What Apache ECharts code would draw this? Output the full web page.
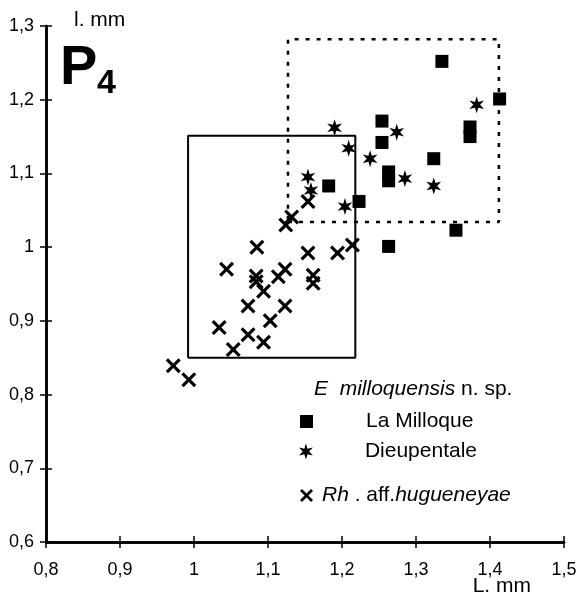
<!DOCTYPE html>
<html>
<head>
<meta charset="utf-8">
<script src="https://cdn.jsdelivr.net/npm/echarts@6/dist/echarts.min.js"></script>
<style>
html,body{margin:0;padding:0;background:#fff;}
#chart{width:580px;height:597px;}
</style>
</head>
<body>
<div id="chart"></div>
<script>
// ---- data ----
var xTicks = [0.8, 0.9, 1, 1.1, 1.2, 1.3, 1.4, 1.5];
var yTicks = [0.6, 0.7, 0.8, 0.9, 1, 1.1, 1.2, 1.3];

var laMilloque = [
  [1.335, 1.252], [1.413, 1.201], [1.373, 1.163], [1.373, 1.150],
  [1.254, 1.171], [1.254, 1.142], [1.324, 1.120], [1.263, 1.102],
  [1.263, 1.090], [1.182, 1.083], [1.223, 1.062], [1.354, 1.023],
  [1.263, 1.001]
];
var dieupentale = [
  [1.382, 1.193], [1.190, 1.162], [1.274, 1.156], [1.209, 1.134],
  [1.238, 1.120], [1.285, 1.093], [1.324, 1.083], [1.154, 1.095],
  [1.158, 1.077], [1.204, 1.055]
];
var hugueneyae = [
  [1.154, 1.062], [1.132, 1.041], [1.124, 1.030], [1.085, 1.000],
  [1.154, 0.992], [1.194, 0.992], [1.214, 1.003], [1.044, 0.970],
  [1.084, 0.961], [1.084, 0.953], [1.123, 0.970], [1.114, 0.960],
  [1.161, 0.962], [1.161, 0.951], [1.094, 0.940], [1.073, 0.920],
  [1.123, 0.920], [1.103, 0.900], [1.034, 0.891], [1.073, 0.881],
  [1.094, 0.871], [1.053, 0.861], [0.972, 0.839], [0.993, 0.820]
];
// boxes: [xmin, xmax, ymin, ymax]
var boxRh = [0.992, 1.218, 0.850, 1.151];
var boxE = [1.127, 1.412, 1.034, 1.282];

var seriesNames = ['La Milloque', 'Dieupentale', 'Rh. aff.hugueneyae'];

function boxPath(b) {
  return [[b[0], b[2]], [b[1], b[2]], [b[1], b[3]], [b[0], b[3]], [b[0], b[2]]];
}
function fmt(v) {
  return String(Number(v.toFixed(1))).replace('.', ',');
}

var STAR = 'path://M50,0L60,32.7L93.3,25L70,50L93.3,75L60,67.3L50,100L40,67.3L6.7,75L30,50L6.7,25L40,32.7Z';
var CROSS = 'path://M15,0L50,35L85,0L100,15L65,50L100,85L85,100L50,65L15,100L0,85L35,50L0,15Z';
var FONT = '"Liberation Sans", Arial, sans-serif';

var chart = echarts.init(document.getElementById('chart'));

var tickStyle = { color: '#000', width: 1.5 };

var option = {
  animation: false,
  backgroundColor: '#fff',
  grid: { left: 46, right: 16, top: 26, bottom: 55, containLabel: false, outerBoundsMode: 'none' },
  xAxis: [
    {
      type: 'value', min: 0.8, max: 1.5, interval: 0.1, position: 'bottom',
      axisLine: { show: true, onZero: false, lineStyle: { color: '#000', width: 2.5 } },
      splitLine: { show: false },
      name: 'L. mm', nameLocation: 'end', nameGap: 0, nameMoveOverlap: false,
      nameTextStyle: { color: '#000', fontFamily: FONT, fontSize: 21, align: 'right', verticalAlign: 'top', padding: [34, 33, 0, 0] },
      axisTick: { show: true, length: 6, lineStyle: tickStyle },
      axisLabel: { color: '#000', fontFamily: FONT, fontSize: 18, margin: 19, formatter: fmt }
    },
    {
      type: 'value', min: 0.8, max: 1.5, interval: 0.1, position: 'bottom',
      axisLine: { show: true, onZero: false, lineStyle: { color: '#000', width: 2.5 } },
      splitLine: { show: false }, axisLabel: { show: false },
      axisTick: { show: true, inside: true, length: 6, lineStyle: tickStyle }
    }
  ],
  yAxis: [
    {
      type: 'value', min: 0.6, max: 1.3, interval: 0.1, position: 'left',
      axisLine: { show: true, onZero: false, lineStyle: { color: '#000', width: 2.5 } },
      splitLine: { show: false },
      name: 'l. mm', nameLocation: 'end', nameGap: 6, nameMoveOverlap: false,
      nameTextStyle: { color: '#000', fontFamily: FONT, fontSize: 21, align: 'left', verticalAlign: 'middle', padding: [0, 0, 0, 28] },
      axisTick: { show: true, length: 6, lineStyle: tickStyle },
      axisLabel: { color: '#000', fontFamily: FONT, fontSize: 18, margin: 12, formatter: fmt }
    },
    {
      type: 'value', min: 0.6, max: 1.3, interval: 0.1, position: 'left',
      axisLine: { show: true, onZero: false, lineStyle: { color: '#000', width: 2.5 } },
      splitLine: { show: false }, axisLabel: { show: false },
      axisTick: { show: true, inside: true, length: 6, lineStyle: tickStyle }
    }
  ],
  legend: [
    {
      data: [seriesNames[0]], left: 295, top: 406, orient: 'vertical',
      itemWidth: 13, itemHeight: 13, selectedMode: false,
      textStyle: { color: '#000', fontFamily: FONT, fontSize: 21, padding: [0, 0, 0, 48] }
    },
    {
      data: [seriesNames[1]], left: 294, top: 436, orient: 'vertical',
      itemWidth: 16, itemHeight: 16, selectedMode: false,
      textStyle: { color: '#000', fontFamily: FONT, fontSize: 21, padding: [0, 0, 0, 46] }
    },
    {
      data: [seriesNames[2]], left: 295, top: 480, orient: 'vertical',
      itemWidth: 13, itemHeight: 13, selectedMode: false,
      formatter: function () { return '{i|Rh} . aff.{i|hugueneyae}'; },
      textStyle: {
        color: '#000', fontFamily: FONT, fontSize: 21, padding: [0, 0, 0, 4],
        rich: { i: { fontStyle: 'italic', fontFamily: FONT, fontSize: 21, color: '#000' } }
      }
    }
  ],
  graphic: [
    { type: 'text', left: 60, top: 41, style: { text: 'P', font: 'bold 56px "Liberation Sans", Arial, sans-serif', fill: '#000' } },
    { type: 'text', left: 97, top: 67, style: { text: '4', font: 'bold 34px "Liberation Sans", Arial, sans-serif', fill: '#000' } },
    {
      type: 'text', left: 314, top: 379,
      style: {
        text: '{i|E  milloquensis}{n| n. sp.}', fill: '#000',
        rich: {
          i: { fontStyle: 'italic', fontFamily: FONT, fontSize: 21, fill: '#000' },
          n: { fontFamily: FONT, fontSize: 21, fill: '#000' }
        }
      }
    }
  ],
  series: [
    {
      type: 'line', data: boxPath(boxRh), showSymbol: false, silent: true, z: 1,
      lineStyle: { color: '#000', width: 2 }
    },
    {
      type: 'line', data: boxPath(boxE), showSymbol: false, silent: true, z: 1,
      lineStyle: { color: '#000', width: 2.5, type: [4, 7] }
    },
    {
      name: seriesNames[0], type: 'scatter', data: laMilloque, symbol: 'rect', symbolSize: 13, z: 3,
      itemStyle: { color: '#000', opacity: 1 }
    },
    {
      name: seriesNames[1], type: 'scatter', data: dieupentale, symbol: STAR, symbolKeepAspect: true, symbolSize: 17, z: 3,
      itemStyle: { color: '#000', opacity: 1 }
    },
    {
      name: seriesNames[2], type: 'scatter', data: hugueneyae, symbol: CROSS, symbolSize: 15, z: 3,
      itemStyle: { color: '#000', opacity: 1 }
    }
  ]
};
chart.setOption(option);
</script>
</body>
</html>
